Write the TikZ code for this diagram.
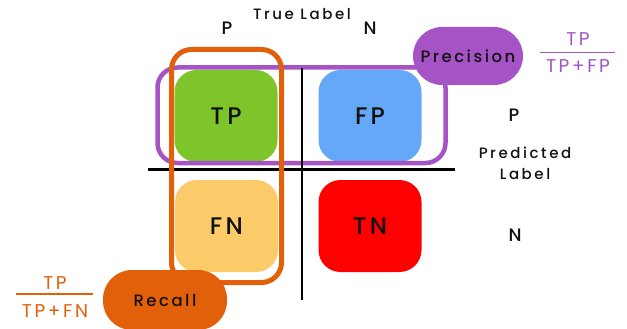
\documentclass[tikz,border=0pt]{standalone}
\usepackage{fontspec}
\setmainfont{Poppins}
\newfontfamily\spaced[LetterSpace=17]{Poppins Medium}
\newfontfamily\spacedb[LetterSpace=14]{Poppins Medium}
\newfontfamily\spacedp[LetterSpace=15]{Poppins Medium}
\newfontfamily\spacedf[LetterSpace=14]{Poppins}
\definecolor{cgreen}{HTML}{7EC52B}
\definecolor{cblue}{HTML}{64A8F7}
\definecolor{cyellow}{HTML}{FBCB6A}
\definecolor{cred}{HTML}{FF0000}
\definecolor{cpurple}{HTML}{A653C6}
\definecolor{corange}{HTML}{E3600A}
\definecolor{ctext}{HTML}{111111}
\begin{document}
\begin{tikzpicture}[x=1pt,y=-1pt,
  cell/.style={rounded corners=22pt,minimum width=103pt,minimum height=92pt,inner sep=0pt,font=\spacedb\fontsize{24}{24}\selectfont,text=ctext},
  pill/.style={rounded corners=29pt,inner sep=0pt,font=\spacedp\fontsize{16.5}{16.5}\selectfont,text=ctext},
  lbl/.style={font=\spaced\fontsize{15}{21}\selectfont,text=ctext,inner sep=0pt},
  pn/.style={font=\spacedb\fontsize{18}{18}\selectfont,text=ctext,inner sep=0pt},
  frac/.style={font=\spacedf\fontsize{18.5}{18.5}\selectfont,inner sep=0pt}]
\useasboundingbox (0,0) rectangle (627,329);
\fill[white] (0,0) rectangle (627,329);
% cells
\node[cell,fill=cgreen] (tp) at (226,116) {TP};
\node[cell,fill=cblue] (fp) at (370,116) {FP};
\node[cell,fill=cyellow] (fn) at (226.5,226) {FN};
\node[cell,fill=cred] (tn) at (370,226) {TN};
% axes
\coordinate (vt) at (302,68);
\coordinate (vb) at (302,300);
\coordinate (hl) at (148,169.5);
\coordinate (hr) at (455,169.5);
\draw[line width=2.2pt,black] (hl) -- (hr);
% precision frame
\draw[cpurple,line width=4.5pt,rounded corners=20pt] (157.5,67.5) rectangle (445.5,163);
\draw[line width=2.2pt,black] (vt) -- (vb);
% recall frame
\draw[corange,line width=5pt,rounded corners=20pt] (171.5,49.5) rectangle (281.5,282.5);
% pills
\node[pill,fill=cpurple,minimum width=110pt,minimum height=58pt] (prec) at (468,56) {Precision};
\node[pill,fill=corange,minimum width=124pt,minimum height=60pt] (rec) at (165,300) {Recall};
% fractions
\node[frac,text=cpurple] (ptp) at (578,39) {TP};
\draw[cpurple,line width=1.6pt] (540,52.5) -- (615,52.5);
\node[frac,text=cpurple] (ptpfp) at (578,66) {TP+FP};
\node[frac,text=corange] (rtp) at (55,283) {TP};
\draw[corange,line width=1.6pt] (16,294) -- (93,294);
\node[frac,text=corange] (rtpfn) at (55,311) {TP+FN};
% labels
\node[lbl] (truel) at (302,14) {True Label};
\node[pn] (tpl) at (227,28) {P};
\node[pn] (tnl) at (370,28) {N};
\node[pn] (ppl) at (514,115) {P};
\node[lbl,align=center] (predl) at (525,163) {Predicted\\Label};
\node[pn] (pnl) at (515,235) {N};
\end{tikzpicture}
\end{document}
